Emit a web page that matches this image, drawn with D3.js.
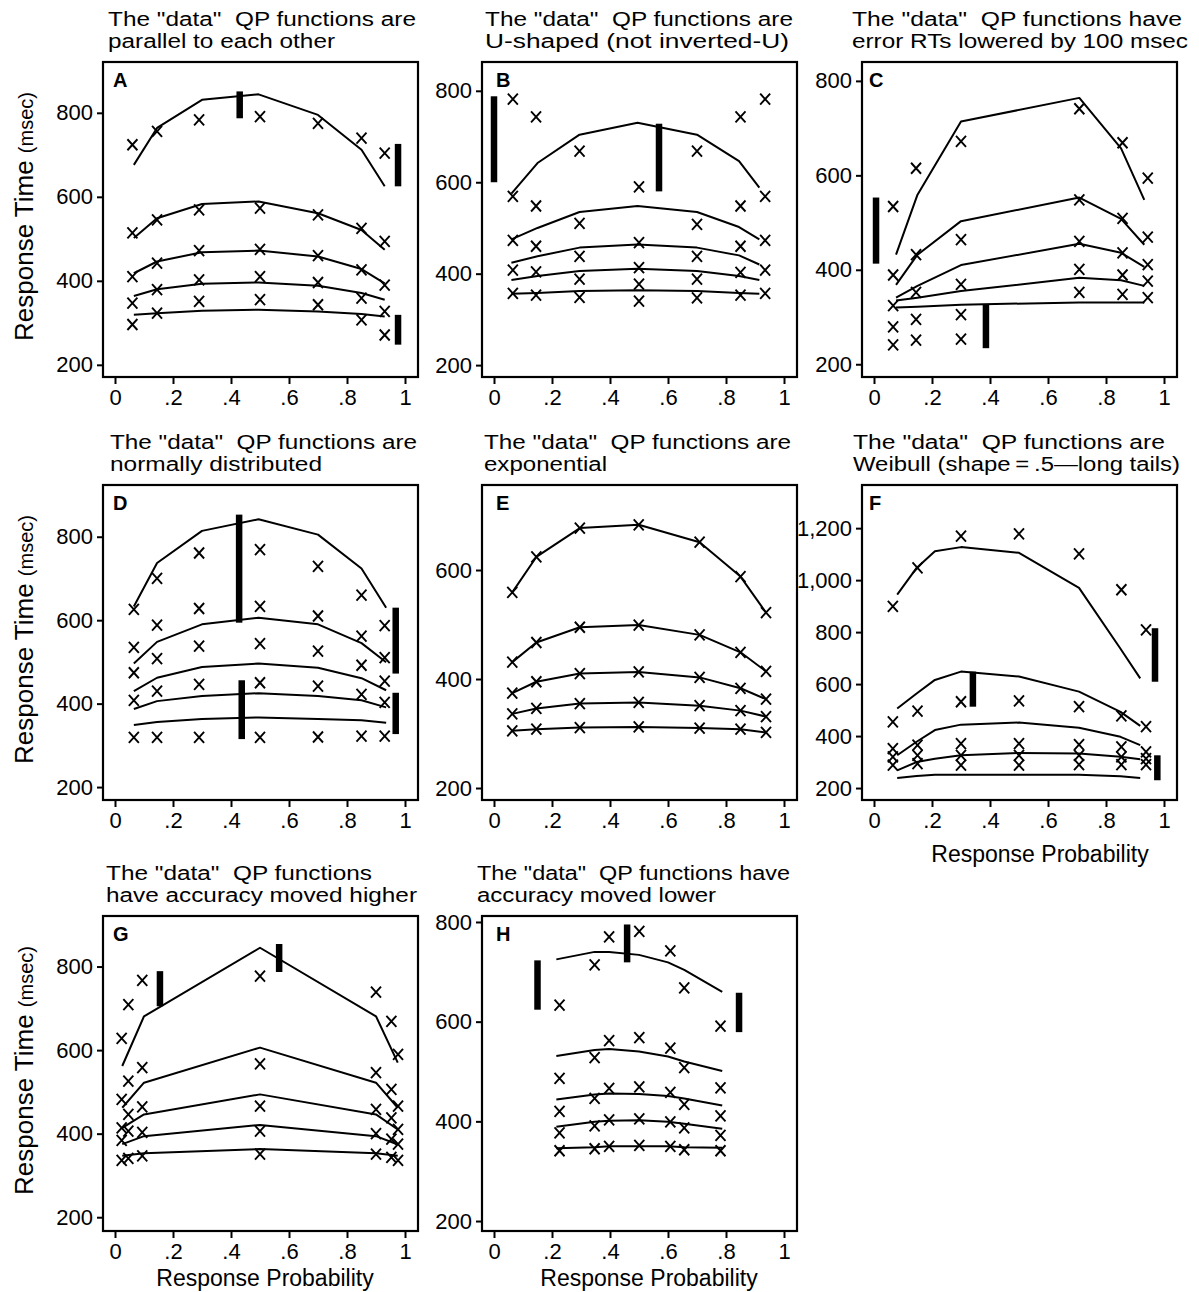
<!DOCTYPE html>
<html>
<head>
<meta charset="utf-8">
<script src="https://cdn.jsdelivr.net/npm/d3@7"></script>
<style>
  body { margin: 0; background: #fff; }
  svg { display: block; font-family: "Liberation Sans", Arial, Helvetica, sans-serif; }
</style>
</head>
<body>
<svg id="chart" width="1199" height="1292"></svg>
<script>
// x ticks shared by every panel
var probTicks = [0, 0.2, 0.4, 0.6, 0.8, 1]

// --- A: parallel
var titleA = ['The "data"  QP functions are', 'parallel to each other']
var aModelP = [0.065, 0.145, 0.30, 0.495, 0.70, 0.85, 0.93]
var aModel = [
  [676, 764, 831, 844, 795, 712, 625],
  [502, 549, 583, 589, 561, 521, 474],
  [418, 446, 468, 472, 458, 428, 394],
  [364, 380, 393, 396, 388, 371, 355],
  [319, 323, 329, 331, 327, 321, 315]
]
var aDataP = [0.06, 0.145, 0.29, 0.50, 0.70, 0.85, 0.93]
var aData = [
  [724, 756, 783, 791, 775, 740, 704],
  [514, 545, 569, 573, 557, 525, 494],
  [410, 442, 472, 475, 460, 426, 390],
  [347, 379, 402, 410, 396, 359, 327],
  [296, 323, 351, 355, 343, 307, 271]
]
var aBars = [[0.43, 787, 851], [0.976, 625, 726], [0.976, 248, 319]]

// --- B: U-shaped
var titleB = ['The "data"  QP functions are', 'U-shaped (not inverted-U)']
var bModelP = [0.06, 0.15, 0.295, 0.495, 0.70, 0.845, 0.915]
var bModel = [
  [575, 642, 704, 730, 704, 646, 588],
  [475, 500, 535, 548, 535, 502, 475],
  [424, 438, 457, 464, 457, 440, 420],
  [386, 395, 406, 411, 406, 395, 386],
  [356, 358, 362, 364, 362, 358, 356]
]
var bDataP = [0.065, 0.145, 0.295, 0.50, 0.70, 0.85, 0.935]
var bData = [
  [782, 743, 668, 590, 668, 743, 782],
  [569, 548, 510, 468, 508, 548, 569],
  [473, 460, 438, 413, 438, 460, 473],
  [408, 404, 388, 377, 388, 403, 408],
  [357, 353, 348, 340, 347, 353, 357]
]
var bBars = [[0, 600, 788], [0.569, 580, 728]]

// --- C: error RTs lowered
var titleC = ['The "data"  QP functions have', 'error RTs lowered by 100 msec']
var cModelP = [0.076, 0.15, 0.30, 0.708, 0.852, 0.932]
var cModel = [
  [432, 559, 714, 764, 657, 548],
  [368, 432, 503, 553, 508, 453],
  [341, 366, 410, 455, 436, 406],
  [335, 341, 355, 383, 378, 366],
  [320, 322, 326, 331, 331, 331]
]
var cDataP = [0.066, 0.145, 0.30, 0.708, 0.857, 0.944]
var cData = [
  [534, 615, 672, 741, 669, 594],
  [389, 432, 464, 548, 509, 469],
  [324, 352, 369, 460, 436, 411],
  [279, 295, 305, 401, 389, 376],
  [241, 251, 253, 352, 348, 341]
]
var cBars = [[0.007, 413, 553], [0.386, 234, 326]]

// --- D: normal
var titleD = ['The "data"  QP functions are', 'normally distributed']
var dModelP = [0.065, 0.145, 0.30, 0.495, 0.70, 0.85, 0.935]
var dModel = [
  [633, 737, 814, 842, 805, 724, 630],
  [496, 548, 590, 606, 590, 545, 499],
  [430, 462, 488, 496, 486, 461, 432],
  [387, 406, 418, 425, 418, 408, 391],
  [349, 356, 363, 367, 363, 360, 354]
]
var dDataP = [0.065, 0.145, 0.29, 0.50, 0.70, 0.85, 0.93]
var dData = [
  [626, 700, 761, 769, 729, 660, 587],
  [535, 588, 628, 633, 610, 562, 510],
  [474, 508, 538, 544, 526, 492, 454],
  [408, 430, 446, 450, 442, 422, 403],
  [319, 319, 319, 319, 320, 322, 322]
]
var dBars = [[0.428, 594, 853], [0.437, 315, 456], [0.968, 472, 630], [0.968, 327, 426]]

// --- E: exponential
var titleE = ['The "data"  QP functions are', 'exponential']
var eModelP = [0.063, 0.146, 0.296, 0.499, 0.709, 0.85, 0.938]
var eModel = [
  [559, 624, 677, 683, 651, 588, 522],
  [431, 467, 495, 499, 481, 449, 414],
  [374, 395, 410, 413, 403, 383, 363],
  [336, 346, 355, 357, 351, 342, 331],
  [305, 308, 311, 312, 310, 308, 302]
]
var eDataP = [0.063, 0.146, 0.296, 0.499, 0.709, 0.85, 0.938]
var eData = [
  [559, 624, 677, 683, 651, 588, 522],
  [431, 467, 495, 499, 481, 449, 414],
  [374, 395, 410, 413, 403, 383, 363],
  [336, 346, 355, 357, 351, 342, 331],
  [305, 308, 311, 312, 310, 308, 302]
]
var eBars = []

// --- F: Weibull
var titleF = ['The "data"  QP functions are', 'Weibull (shape\u2009=\u2009.5\u2014long tails)']
var fModelP = [0.08, 0.147, 0.21, 0.30, 0.50, 0.707, 0.85, 0.918]
var fModel = [
  [944, 1047, 1111, 1127, 1105, 970, 736, 622],
  [506, 564, 616, 648, 629, 571, 493, 439],
  [326, 378, 423, 444, 452, 432, 397, 365],
  [268, 300, 313, 326, 335, 333, 320, 311],
  [239, 246, 251, 251, 251, 251, 245, 239]
]
var fDataP = [0.065, 0.15, 0.30, 0.50, 0.707, 0.853, 0.938]
var fData = [
  [899, 1047, 1169, 1178, 1101, 963, 809],
  [455, 496, 532, 535, 513, 478, 436],
  [352, 365, 371, 371, 367, 358, 339],
  [320, 326, 326, 326, 326, 320, 313],
  [288, 294, 288, 288, 290, 290, 290]
]
var fBars = [[0.969, 609, 815], [0.341, 513, 648], [0.977, 230, 326]]

// --- G: accuracy higher
var titleG = ['The "data"  QP functions', 'have accuracy moved higher']
var gModelP = [0.025, 0.10, 0.50, 0.90, 0.975]
var gModel = [
  [562, 681, 845, 681, 570],
  [462, 522, 606, 522, 462],
  [414, 446, 494, 446, 410],
  [375, 394, 421, 394, 374],
  [347, 353, 363, 353, 347]
]
var gDataP = [0.023, 0.046, 0.094, 0.50, 0.90, 0.953, 0.976]
var gData = [
  [628, 709, 767, 777, 739, 669, 590],
  [482, 526, 558, 567, 546, 506, 466],
  [414, 446, 464, 466, 458, 438, 410],
  [384, 406, 403, 406, 400, 387, 375],
  [336, 341, 347, 351, 351, 343, 336]
]
var gBars = [[0.155, 705, 789], [0.566, 787, 854]]

// --- H: accuracy lower
var titleH = ['The "data"  QP functions have', 'accuracy moved lower']
var hModelP = [0.215, 0.347, 0.397, 0.50, 0.60, 0.656, 0.787]
var hModel = [
  [725, 740, 740, 734, 719, 704, 660],
  [531, 543, 545, 540, 530, 520, 501],
  [444, 454, 456, 455, 451, 446, 432],
  [389, 399, 401, 402, 399, 395, 385],
  [346, 348, 350, 350, 350, 348, 347]
]
var hDataP = [0.226, 0.347, 0.397, 0.501, 0.608, 0.656, 0.781]
var hData = [
  [633, 714, 770, 781, 742, 668, 591],
  [486, 528, 562, 568, 547, 508, 467],
  [420, 446, 466, 469, 458, 434, 411],
  [377, 391, 403, 405, 399, 387, 372],
  [341, 345, 350, 352, 350, 343, 341]
]
var hBars = [[0.15, 624, 723], [0.459, 719, 795], [0.845, 579, 658]]

var colLeft = [103, 482, 862]
var rowTop = [62, 485, 916]
var boxW = 315
var boxH = 315
var letterDx = [10, 14, 7]

var panels = [
  { id: 'A', col: 0, row: 0, yDomain: [171, 921], yTicks: [200, 400, 600, 800], title: titleA, titleLen: [308, 227], titleDx: 5, modelP: aModelP, model: aModel, dataP: aDataP, data: aData, bars: aBars },
  { id: 'B', col: 1, row: 0, yDomain: [174, 863], yTicks: [200, 400, 600, 800], title: titleB, titleLen: [308, 304], titleDx: 3, modelP: bModelP, model: bModel, dataP: bDataP, data: bData, bars: bBars },
  { id: 'C', col: 2, row: 0, yDomain: [173, 840], yTicks: [200, 400, 600, 800], title: titleC, titleLen: [330, 336], titleDx: -10, modelP: cModelP, model: cModel, dataP: cDataP, data: cData, bars: cBars },
  { id: 'D', col: 0, row: 1, yDomain: [169, 924], yTicks: [200, 400, 600, 800], title: titleD, titleLen: [307, 212], titleDx: 7, modelP: dModelP, model: dModel, dataP: dDataP, data: dData, bars: dBars },
  { id: 'E', col: 1, row: 1, yDomain: [178, 756], yTicks: [200, 400, 600], title: titleE, titleLen: [307, 123], titleDx: 2, modelP: eModelP, model: eModel, dataP: eDataP, data: eData, bars: eBars },
  { id: 'F', col: 2, row: 1, yDomain: [154, 1366], yTicks: [200, 400, 600, 800, 1000, 1200], title: titleF, titleLen: [312, 327], titleDx: -9, modelP: fModelP, model: fModel, dataP: fDataP, data: fData, bars: fBars, xTitle: { dx: 178, dy: 62 } },
  { id: 'G', col: 0, row: 2, yDomain: [167, 921], yTicks: [200, 400, 600, 800], title: titleG, titleLen: [266, 311], titleDx: 3, modelP: gModelP, model: gModel, dataP: gDataP, data: gData, bars: gBars, xTitle: { dx: 162, dy: 55 } },
  { id: 'H', col: 1, row: 2, yDomain: [180, 812], yTicks: [200, 400, 600, 800], title: titleH, titleLen: [313, 239], titleDx: -5, modelP: hModelP, model: hModel, dataP: hDataP, data: hData, bars: hBars, xTitle: { dx: 167, dy: 55 } }
]

var svg = d3.select('#chart')
svg.append('rect').attr('width', 1199).attr('height', 1292).attr('fill', '#fff')

function probFormat (d) {
  if (d === 0 || d === 1) return String(d)
  return String(d).replace(/^0/, '')
}

function drawPanel (p) {
  var left = colLeft[p.col]
  var top = rowTop[p.row]
  var g = svg.append('g')

  var x = d3.scaleLinear().domain([0, 1]).range([left + 12, left + 302])
  var y = d3.scaleLinear().domain(p.yDomain).range([top + boxH, top])

  // title, two lines (stretched to the widths seen in the scan)
  p.title.forEach(function (t, i) {
    g.append('text')
      .attr('x', left + p.titleDx)
      .attr('y', top - 36.5 + i * 22.5)
      .attr('font-size', 20)
      .attr('textLength', p.titleLen[i])
      .attr('lengthAdjust', 'spacingAndGlyphs')
      .style('white-space', 'pre')
      .text(t)
  })

  // axes
  var yAxis = d3.axisLeft(y).tickValues(p.yTicks).tickSize(6).tickPadding(4).tickFormat(d3.format(','))
  var ya = g.append('g').attr('transform', 'translate(' + left + ',0)').call(yAxis)
  var xAxis = d3.axisBottom(x).tickValues(probTicks).tickSize(7).tickPadding(5).tickFormat(probFormat)
  var xa = g.append('g').attr('transform', 'translate(0,' + (top + boxH) + ')').call(xAxis)
  ;[ya, xa].forEach(function (a) {
    a.attr('font-family', null)
    a.select('.domain').remove()
    a.selectAll('line').attr('stroke', '#000').attr('stroke-width', 2)
    a.selectAll('text').attr('font-size', 22).attr('fill', '#000')
  })

  // frame
  g.append('rect')
    .attr('x', left).attr('y', top)
    .attr('width', boxW).attr('height', boxH)
    .attr('fill', 'none').attr('stroke', '#000').attr('stroke-width', 2.2)

  g.append('text')
    .attr('x', left + letterDx[p.col]).attr('y', top + 25)
    .attr('font-size', 20).attr('font-weight', 'bold')
    .text(p.id)

  // model quantile lines
  var path = d3.line()
    .x(function (d, i) { return x(p.modelP[i]) })
    .y(function (d) { return y(d) })
  p.model.forEach(function (row) {
    g.append('path')
      .attr('d', path(row))
      .attr('fill', 'none').attr('stroke', '#000').attr('stroke-width', 2)
      .attr('stroke-linejoin', 'round')
  })

  // data quantiles as x marks
  p.data.forEach(function (row) {
    g.selectAll(null)
      .data(row)
      .enter().append('path')
      .attr('transform', function (d, i) { return 'translate(' + x(p.dataP[i]) + ',' + y(d) + ')' })
      .attr('d', 'M-5,-5.5L5,5.5M-5,5.5L5,-5.5')
      .attr('stroke', '#000').attr('stroke-width', 1.9).attr('fill', 'none')
  })

  // thick vertical bars
  g.selectAll(null)
    .data(p.bars)
    .enter().append('line')
    .attr('x1', function (d) { return x(d[0]) })
    .attr('x2', function (d) { return x(d[0]) })
    .attr('y1', function (d) { return y(d[1]) })
    .attr('y2', function (d) { return y(d[2]) })
    .attr('stroke', '#000').attr('stroke-width', 6.5)

  if (p.col === 0) {
    var cy = top + boxH / 2 - 3
    var lab = g.append('text')
      .attr('transform', 'translate(33,' + cy + ') rotate(-90)')
      .attr('text-anchor', 'middle')
      .attr('font-size', 26)
    lab.append('tspan').text('Response Time ')
    lab.append('tspan').attr('font-size', 20).text('(msec)')
  }

  if (p.xTitle) {
    g.append('text')
      .attr('x', left + p.xTitle.dx)
      .attr('y', top + boxH + p.xTitle.dy)
      .attr('text-anchor', 'middle')
      .attr('font-size', 23)
      .text('Response Probability')
  }
}

panels.forEach(drawPanel)
</script>
</body>
</html>
